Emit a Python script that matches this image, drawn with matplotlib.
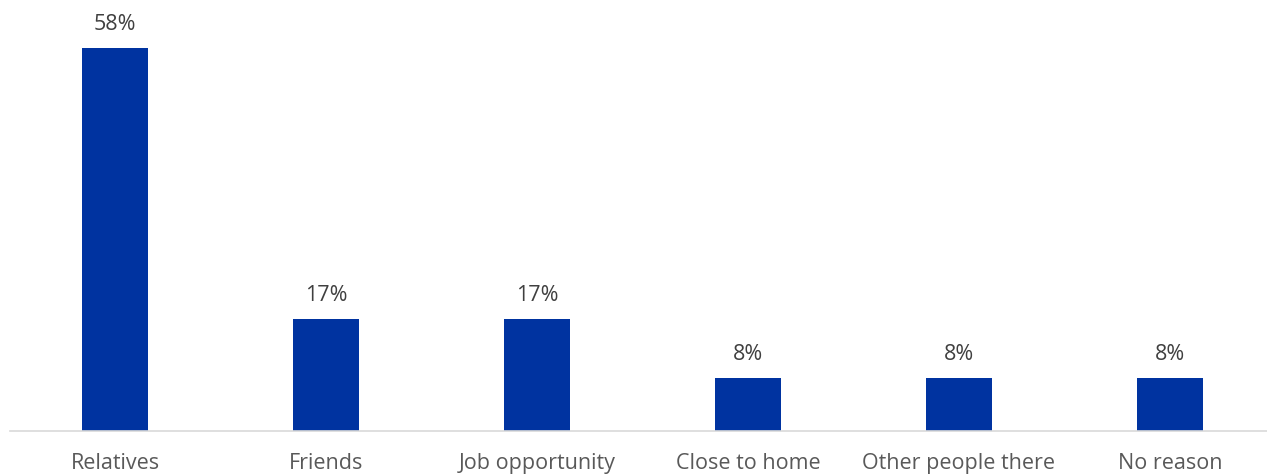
import matplotlib.pyplot as plt

categories = ["Relatives", "Friends", "Job opportunity", "Close to home",
              "Other people there", "No reason"]
values = [58, 17, 17, 8, 8, 8]

plt.rcParams["font.family"] = ["Open Sans", "DejaVu Sans"]

fig = plt.figure(figsize=(12.67, 4.74), dpi=100)
# axes spans px 9.5..1275.5 horizontally, 0..431 vertically
ax = fig.add_axes([9.5 / 1267, (474 - 431) / 474, 1266 / 1267, 431 / 474])

x = range(len(categories))
bars = ax.bar(x, values, width=0.31, color="#0033A0")

for rect, v in zip(bars, values):
    ax.annotate(f"{v}%", (rect.get_x() + rect.get_width() / 2, v),
                xytext=(0, 17), textcoords="offset points",
                ha="center", va="center", fontsize=15.5, color="#404040")

ax.set_xlim(-0.5, len(categories) - 0.5)
ax.set_ylim(0, 65.3)
ax.set_xticks(list(x))
ax.set_xticklabels(categories, fontsize=15.5, color="#595959")
ax.tick_params(axis="x", length=0, pad=16)
ax.set_yticks([])
for side in ["top", "right", "left"]:
    ax.spines[side].set_visible(False)
ax.spines["bottom"].set_color("#D9D9D9")
ax.spines["bottom"].set_linewidth(1.2)

fig.savefig("out.png", dpi=100)
